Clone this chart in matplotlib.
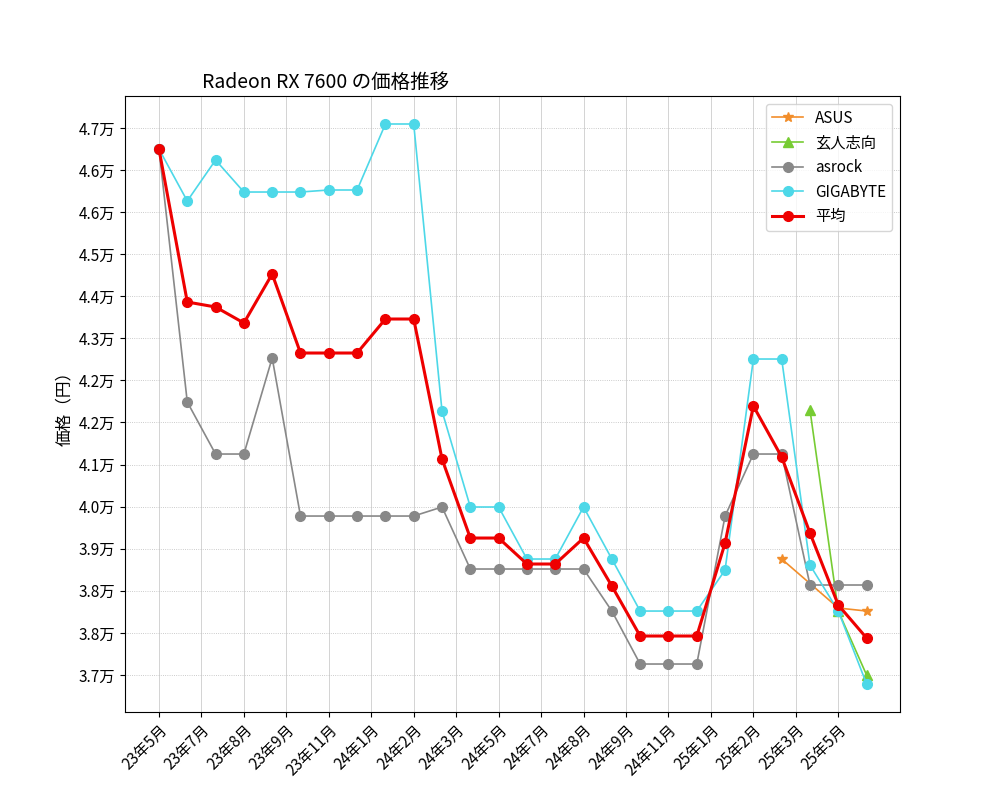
import matplotlib
matplotlib.use("Agg")
import matplotlib.pyplot as plt
import numpy as np

plt.rcParams["font.family"] = ["Noto Sans CJK JP", "DejaVu Sans"]

n = 26
asus_x = [22, 24, 25]
asus = [39067, 38194, 38140]
kuro_x = [23, 24, 25]
kuro = [41722, 38140, 37000]
asrock = [46373, 41865, 40938, 40938, 42649, 39833, 39833, 39833, 39833, 39833, 39994,
          38889, 38889, 38889, 38889, 38889, 38140, 37196, 37196, 37196, 39833, 40938,
          40938, 38604, 38604, 38604]
gigabyte = [46373, 45447, 46177, 45607, 45607, 45607, 45643, 45643, 46819, 46819,
            41704, 39994, 39994, 39067, 39067, 39994, 39067, 38140, 38140, 38140, 38871,
            42631, 42631, 38960, 38140, 36840]
avg = [46373, 43647, 43558, 43273, 44146, 42738, 42738, 42738, 43344, 43344, 40849,
       39441, 39441, 38978, 38978, 39441, 38586, 37695, 37695, 37695, 39352, 41794,
       40885, 39530, 38247, 37659]
xlabels = ["23年5月", "23年7月", "23年8月", "23年9月", "23年11月", "24年1月", "24年2月",
           "24年3月", "24年5月", "24年7月", "24年8月", "24年9月", "24年11月", "25年1月",
           "25年2月", "25年3月", "25年5月"]
ylabels = ["3.7万", "3.8万", "3.8万", "3.9万", "4.0万", "4.1万", "4.2万", "4.2万",
           "4.3万", "4.4万", "4.5万", "4.6万", "4.6万", "4.7万"]

fig, ax = plt.subplots(figsize=(10, 8), dpi=100)
x = np.arange(n)
ax.plot(asus_x, asus, "-*", color="#f28e2b", lw=1.2, ms=7, label="ASUS")
ax.plot(kuro_x, kuro, "-^", color="#77cc33", lw=1.2, ms=7, label="玄人志向")
ax.plot(x, asrock, "-o", color="#888888", lw=1.2, ms=7, label="asrock")
ax.plot(x, gigabyte, "-o", color="#4dd8e8", lw=1.2, ms=7, label="GIGABYTE")
ax.plot(x, avg, "-o", color="#ee0000", lw=2.2, ms=7, label="平均")

ax.set_xticks(np.arange(len(xlabels)) * 1.5)
ax.set_xticklabels(xlabels, rotation=45, ha="right", rotation_mode="anchor", fontsize=11)
ax.set_yticks(37000 + 750 * np.arange(len(ylabels)))
ax.set_yticklabels(ylabels, fontsize=11)
ax.set_xlim(-1.2, 26.18)
ax.set_ylim(36341, 47318)
ax.grid(True, color="#cccccc", lw=0.6)
ax.grid(True, which="major", axis="y", ls=":", color="#bbbbbb", lw=0.6)
ax.set_ylabel("価格（円）", fontsize=12)
ax.set_title("Radeon RX 7600 の価格推移", fontsize=14, loc="left", x=0.1)
ax.legend(loc="upper right", fontsize=11)
fig.savefig("out.png")
